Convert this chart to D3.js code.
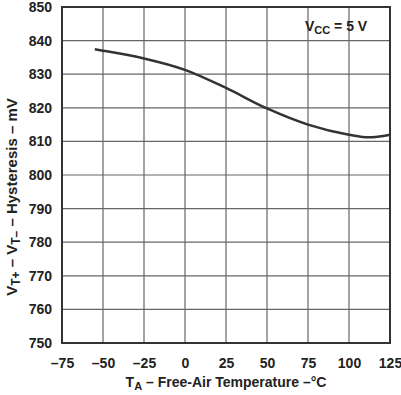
<!DOCTYPE html>
<html><head><meta charset="utf-8">
<script src="https://cdn.jsdelivr.net/npm/d3@7"></script>
<style>body{margin:0;background:#fff;} text{font-family:"Liberation Sans",Arial,sans-serif;font-weight:bold;fill:#222;}</style>
</head><body><svg id="c" width="401" height="395"></svg>
<script>
const temps = [-55, -50, -25, 0, 25, 50, 75, 100, 112, 125];
const hyst = [837.4, 837.0, 834.7, 831.3, 825.9, 819.8, 815.0, 812.0, 811.2, 812.0];
const xTicks = [-75, -50, -25, 0, 25, 50, 75, 100, 125];
const yTicks = [750, 760, 770, 780, 790, 800, 810, 820, 830, 840, 850];

const svg = d3.select("#c");
const L = 62, R = 390, T = 7, B = 343;
const x = d3.scaleLinear().domain([-75, 125]).range([L, R]);
const y = d3.scaleLinear().domain([750, 850]).range([B, T]);

const g = svg.append("g");
g.selectAll(".vg").data(xTicks.slice(1, -1)).enter().append("line")
  .attr("x1", d => x(d)).attr("x2", d => x(d)).attr("y1", T).attr("y2", B)
  .attr("stroke", "#666").attr("stroke-width", 1.2);
g.selectAll(".hg").data(yTicks.slice(1, -1)).enter().append("line")
  .attr("y1", d => y(d)).attr("y2", d => y(d)).attr("x1", L).attr("x2", R)
  .attr("stroke", "#666").attr("stroke-width", 1.2);
g.append("rect").attr("x", L).attr("y", T).attr("width", R - L).attr("height", B - T)
  .attr("fill", "none").attr("stroke", "#333").attr("stroke-width", 2);

const xa = svg.append("g").attr("transform", `translate(0,${B})`)
  .call(d3.axisBottom(x).tickValues(xTicks).tickSize(0).tickPadding(15)
    .tickFormat(d => d < 0 ? "\u2013" + Math.abs(d) : d));
xa.select(".domain").remove();
xa.selectAll("text").style("font-size", "14px").attr("fill", "#222");
const ya = svg.append("g").attr("transform", `translate(${L},0)`)
  .call(d3.axisLeft(y).tickValues(yTicks).tickSize(0).tickPadding(10));
ya.select(".domain").remove();
ya.selectAll("text").style("font-size", "14px").attr("fill", "#222");

const line = d3.line().x((d, i) => x(temps[i])).y(d => y(d)).curve(d3.curveMonotoneX);
svg.append("path").datum(hyst).attr("d", line).attr("fill", "none")
  .attr("stroke", "#333").attr("stroke-width", 2.5);

const an = svg.append("text").attr("x", 305).attr("y", 31).style("font-size", "14px");
an.append("tspan").text("V");
an.append("tspan").attr("dy", 3).style("font-size", "11px").text("CC");
an.append("tspan").attr("dy", -3).text(" = 5 V");

const xl = svg.append("text").attr("x", (L + R) / 2).attr("y", 387).attr("text-anchor", "middle").style("font-size", "14px");
xl.append("tspan").text("T");
xl.append("tspan").attr("dy", 3).style("font-size", "11px").text("A");
xl.append("tspan").attr("dy", -3).text(" \u2013 Free-Air Temperature \u2013\u00b0C");

const yl = svg.append("text").attr("transform", "translate(17,197) rotate(-90)").attr("text-anchor", "middle").style("font-size", "15px");
yl.append("tspan").text("V");
yl.append("tspan").attr("dy", 3).style("font-size", "12px").text("T+");
yl.append("tspan").attr("dy", -3).text(" \u2013 V");
yl.append("tspan").attr("dy", 3).style("font-size", "12px").text("T\u2013");
yl.append("tspan").attr("dy", -3).text(" \u2013 Hysteresis \u2013 mV");
</script></body></html>
